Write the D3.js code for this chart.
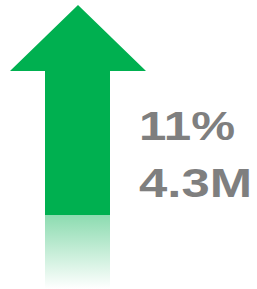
<!DOCTYPE html>
<html><head><meta charset="utf-8">
<script src="https://cdn.jsdelivr.net/npm/d3@7"></script>
<style>html,body{margin:0;padding:0;background:#fff;}svg{display:block;}</style>
</head><body>
<script>
const labels = ["11%", "4.3M"];
const arrowValue = [11];
const W = 257, H = 289;
const svg = d3.select("body").append("svg").attr("width", W).attr("height", H);
const defs = svg.append("defs");
const grad = defs.append("linearGradient").attr("id","refl").attr("x1",0).attr("y1",0).attr("x2",0).attr("y2",1);
grad.append("stop").attr("offset","0%").attr("stop-color","#00B050").attr("stop-opacity",0.45);
grad.append("stop").attr("offset","100%").attr("stop-color","#00B050").attr("stop-opacity",0);

const y = d3.scaleLinear().domain([0, 11]).range([215, 5]);
const headY = 71, cx = 78, headL = 10, headR = 146, shaftL = 45, shaftR = 110;
const v = arrowValue[0];
const pts = [[cx, y(v)], [headR, headY], [shaftR, headY], [shaftR, y(0)], [shaftL, y(0)], [shaftL, headY], [headL, headY]];
svg.append("path").attr("d", d3.line()(pts) + "Z").attr("fill", "#00B050");
svg.append("rect").attr("x", shaftL).attr("y", y(0)).attr("width", shaftR - shaftL).attr("height", H - y(0)).attr("fill","url(#refl)");

const baselines = [140, 197];
const lengths = [96, 113];
svg.selectAll("text.lab").data(labels).join("text").attr("class","lab")
  .attr("x", 139).attr("y", (d,i) => baselines[i])
  .attr("font-family","Liberation Sans, Arial, sans-serif").attr("font-weight","bold")
  .attr("font-size", 41).attr("fill","#7F7F7F")
  .attr("textLength", (d,i) => lengths[i]).attr("lengthAdjust","spacingAndGlyphs")
  .text(d => d);
</script>
</body></html>
